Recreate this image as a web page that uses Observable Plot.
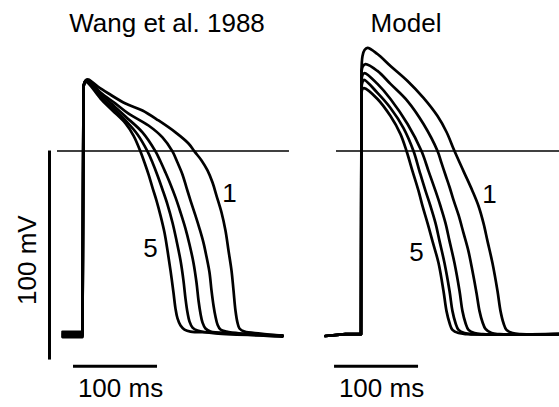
<!DOCTYPE html>
<html>
<head>
<meta charset="utf-8">
<script src="https://cdn.jsdelivr.net/npm/d3@7"></script>
<script src="https://cdn.jsdelivr.net/npm/@observablehq/plot@0.6"></script>
<style>
  html, body { margin: 0; padding: 0; background: #fff; }
  #chart svg { display: block; }
</style>
</head>
<body>
<div id="chart"></div>
<script>
// Panels
const panels = ["Wang et al. 1988", "Model"];
const traceNames = ["1", "2", "3", "4", "5"];

// Experimental traces (Wang et al. 1988): [time ms, voltage mV]
const wangTrace1 = [[-23.8,-86.5],[0,-86.5],[1.2,30.9],[3.6,33.7],[7.1,34.2],[17.9,30.9],[31.0,27.5],[51.2,22.7],[71.4,19.4],[90.5,14.6],[110.7,8.9],[126.2,3.6],[133.3,-0.2],[141.7,-4.5],[148.8,-9.3],[154.8,-15.1],[159.5,-21.3],[165.5,-29.4],[170.2,-38.0],[173.8,-47.6],[177.4,-57.2],[179.8,-66.8],[182.1,-76.3],[184.5,-82.1],[186.9,-84.9],[192.9,-86.4],[211.9,-87.3],[238.1,-88.3]];
const wangTrace2 = [[-23.8,-87.2],[0,-87.2],[1.2,30.9],[3.6,33.5],[7.1,33.7],[21.4,28.0],[39.3,22.7],[54.8,17.9],[78.6,12.2],[95.2,6.5],[107.1,-0.2],[113.1,-5.5],[119.0,-11.2],[123.8,-17.5],[128.6,-23.7],[134.5,-30.9],[139.3,-37.1],[144.0,-43.8],[147.6,-50.5],[151.2,-58.1],[153.6,-66.8],[156.0,-74.0],[158.3,-79.2],[160.7,-83.0],[164.3,-85.4],[171.4,-86.4],[188.1,-87.3],[238.1,-88.5]];
const wangTrace3 = [[-23.8,-87.8],[0,-87.8],[1.2,30.9],[3.6,33.5],[7.1,33.3],[21.4,27.5],[35.7,22.2],[51.2,16.5],[71.4,8.9],[86.9,-0.2],[92.9,-5.0],[98.8,-10.3],[104.8,-16.0],[110.7,-22.2],[116.7,-29.4],[122.6,-37.1],[127.4,-44.7],[132.1,-53.4],[135.7,-62.9],[138.1,-71.5],[140.5,-77.8],[142.9,-82.1],[146.4,-84.9],[152.4,-86.4],[176.2,-87.3],[238.1,-88.8]];
const wangTrace4 = [[-23.8,-88.4],[0,-88.4],[1.2,30.9],[3.6,33.3],[7.1,32.8],[21.4,26.1],[35.7,20.8],[51.2,14.6],[65.5,7.9],[77.4,-0.2],[83.3,-5.5],[89.3,-11.7],[95.2,-18.4],[101.2,-25.6],[107.1,-34.2],[111.9,-42.8],[116.7,-52.4],[120.2,-62.0],[122.6,-70.6],[125.0,-77.3],[127.4,-81.6],[131.0,-84.5],[136.9,-85.9],[158.3,-87.3],[238.1,-88.3]];
const wangTrace5 = [[-23.8,-89.0],[0,-89.0],[1.2,30.9],[3.6,33.0],[7.1,32.3],[21.4,25.1],[35.7,19.4],[51.2,13.2],[60.7,7.4],[69.0,-0.2],[73.8,-5.5],[78.6,-11.2],[83.3,-17.5],[88.1,-23.7],[92.9,-30.9],[97.6,-39.0],[101.2,-47.6],[104.8,-57.2],[108.3,-67.7],[110.7,-75.4],[113.1,-80.1],[116.7,-83.5],[121.4,-85.4],[128.6,-86.4],[152.4,-86.8],[238.1,-88.3]];

// Model traces: [time ms, voltage mV]
const modelTrace1 = [[-42.3,-88.5],[-18.5,-87.6],[0,-87.6],[0.6,38.3],[1.8,45.5],[4.2,48.3],[7.7,49.3],[19.6,46.4],[35.1,40.7],[55.4,33.5],[74.4,25.4],[91.1,16.7],[101.8,9.1],[111.3,0],[122.0,-9.6],[132.7,-19.1],[139.9,-26.3],[145.8,-34.5],[150.6,-43.1],[156.5,-53.6],[162.5,-67.0],[166.1,-76.6],[169.6,-82.3],[173.2,-85.6],[180.4,-87.1],[189.9,-87.6],[240,-87.6]];
const modelTrace2 = [[-42.3,-88.5],[-18.5,-87.6],[0,-87.6],[0.6,35.9],[1.8,40.2],[5.4,41.6],[19.6,38.3],[35.1,32.1],[55.4,23.9],[74.4,12.9],[91.1,0],[95.8,-5.7],[100.6,-11.5],[105.4,-17.2],[110.1,-23.4],[116.1,-30.6],[122.0,-39.2],[127.9,-47.9],[132.7,-57.4],[137.5,-67.9],[141.1,-76.6],[144.6,-81.8],[148.2,-85.1],[155.4,-87.1],[165,-87.6],[240,-87.6]];
const modelTrace3 = [[-42.3,-88.5],[-18.5,-87.6],[0,-87.6],[0.6,33.5],[1.8,36.4],[4.2,37.3],[19.6,32.1],[35.1,24.9],[55.4,12.9],[72.0,0],[80.4,-9.6],[88.7,-19.1],[94.6,-26.3],[100.6,-34.5],[105.4,-43.1],[111.3,-53.6],[117.3,-67.0],[120.8,-76.6],[124.4,-82.3],[128.0,-85.6],[135.1,-87.1],[145,-87.6],[240,-87.6]];
const modelTrace4 = [[-42.3,-88.5],[-18.5,-87.6],[0,-87.6],[0.6,30.6],[1.8,33.0],[3.6,34.0],[19.6,27.8],[35.1,20.6],[50.6,11.0],[62.5,0],[69.6,-9.6],[76.8,-19.1],[82.7,-26.3],[88.7,-34.5],[93.5,-43.1],[99.4,-53.6],[105.4,-67.0],[108.9,-76.6],[112.5,-82.3],[116.1,-85.6],[123.2,-87.1],[133,-87.6],[240,-87.6]];
const modelTrace5 = [[-42.3,-88.5],[-18.5,-87.6],[0,-87.6],[0.6,27.8],[1.8,29.7],[3.6,30.1],[19.6,24.9],[35.1,16.7],[47.0,8.1],[54.2,0],[61.3,-9.6],[68.5,-19.1],[73.2,-26.3],[79.2,-34.5],[85.1,-43.1],[92.3,-53.6],[98.2,-67.0],[101.8,-76.6],[105.4,-82.3],[108.9,-85.6],[116.1,-87.1],[126,-87.6],[240,-87.6]];

// Time (ms) at which the upstroke ends in each panel
const upstrokeEnd = [1.2, 0.6];

// Reference (0 mV) line extents per panel, ms
const zeroLineStart = [-29.8, -29.2];
const zeroLineEnd = [246.4, 240];

// Scale bars
const timeBarStart = [-10.7, -31.5];   // ms
const timeBarEnd = [89.3, 68.5];       // ms
const timeBarLevel = -103;             // mV
const timeBarLabel = "100 ms";
const voltBarTime = -39.3;             // ms (left panel)
const voltBarTop = 0, voltBarBottom = -100; // mV
const voltBarLabel = "100 mV";

// Curve number annotations [panel index, label, t, v]
const curveLabels = [[0,"1",175.0,-20.3],[0,"5",81.0,-46.7],[1,"1",153.0,-21.1],[1,"5",66.1,-48.8]];
// Panel title anchors (ms)
const titleTimes = [100.6, 53.6];

// ---- build tables ----
const wangTraces = [wangTrace1, wangTrace2, wangTrace3, wangTrace4, wangTrace5];
const modelTraces = [modelTrace1, modelTrace2, modelTrace3, modelTrace4, modelTrace5];
const rows = [];
[wangTraces, modelTraces].forEach((set, p) =>
  set.forEach((tr, i) => tr.forEach(([t, v]) => rows.push({panel: panels[p], p, trace: panels[p] + traceNames[i], t, v})))
);
const upRows = rows.filter(d => d.t <= upstrokeEnd[d.p]);
const plateauRows = rows.filter(d => d.t >= upstrokeEnd[d.p]);
const zeroLines = panels.map((panel, i) => ({panel, x1: zeroLineStart[i], x2: zeroLineEnd[i]}));
const timeBars = panels.map((panel, i) => ({panel, x1: timeBarStart[i], x2: timeBarEnd[i], mid: (timeBarStart[i] + timeBarEnd[i]) / 2}));
const labels = curveLabels.map(([p, label, t, v]) => ({panel: panels[p], label, t, v}));
const titles = panels.map((panel, i) => ({panel, t: titleTimes[i]}));

const font = "'Liberation Sans', Arial, Helvetica, sans-serif";
const pxPerMs = 0.84;
const xDomain = [-30, 236];
const bw = (xDomain[1] - xDomain[0]) * pxPerMs;
const step = 278.5;
const padInner = 1 - bw / step;
const mLeft = 56.8;
const W = 559, H = 407;
const mRight = W - (mLeft + step * (2 - padInner));

const lineStyle = {fx: "panel", x: "t", y: "v", z: "trace", stroke: "#000", strokeWidth: 2.7, strokeLinejoin: "round", strokeLinecap: "round"};

const chart = Plot.plot({
  width: W,
  height: H,
  marginLeft: mLeft,
  marginRight: mRight,
  marginTop: 0,
  marginBottom: 0,
  style: {fontFamily: font, background: "#fff", overflow: "visible"},
  fx: {domain: panels, axis: null, paddingInner: padInner, paddingOuter: 0, align: 0, round: false},
  x: {domain: xDomain, axis: null},
  y: {domain: [-122.7, 72.0], axis: null},
  marks: [
    Plot.ruleY(zeroLines, {fx: "panel", y: 0, x1: "x1", x2: "x2", stroke: "#000", strokeWidth: 1.6}),
    Plot.line(upRows, {...lineStyle, curve: "linear"}),
    Plot.line(plateauRows, {...lineStyle, curve: "catmull-rom"}),
    Plot.ruleY(timeBars, {fx: "panel", y: timeBarLevel, x1: "x1", x2: "x2", stroke: "#000", strokeWidth: 3}),
    Plot.text(timeBars, {fx: "panel", x: "mid", y: -113.6, text: () => timeBarLabel, fontSize: 26, dx: 5, fill: "#000"}),
    Plot.ruleX([{panel: panels[0]}], {fx: "panel", x: voltBarTime, y1: voltBarTop, y2: voltBarBottom, stroke: "#000", strokeWidth: 3}),
    Plot.text([{panel: panels[0]}], {fx: "panel", x: -64.9, y: -52.2, text: () => voltBarLabel, rotate: -90, fontSize: 26, fill: "#000"}),
    Plot.text(labels, {fx: "panel", x: "t", y: "v", text: "label", fontSize: 26, fill: "#000"}),
    Plot.text(titles, {fx: "panel", x: "t", y: 61.0, text: "panel", fontSize: 26, fill: "#000"})
  ]
});
document.getElementById("chart").appendChild(chart);
</script>
</body>
</html>
